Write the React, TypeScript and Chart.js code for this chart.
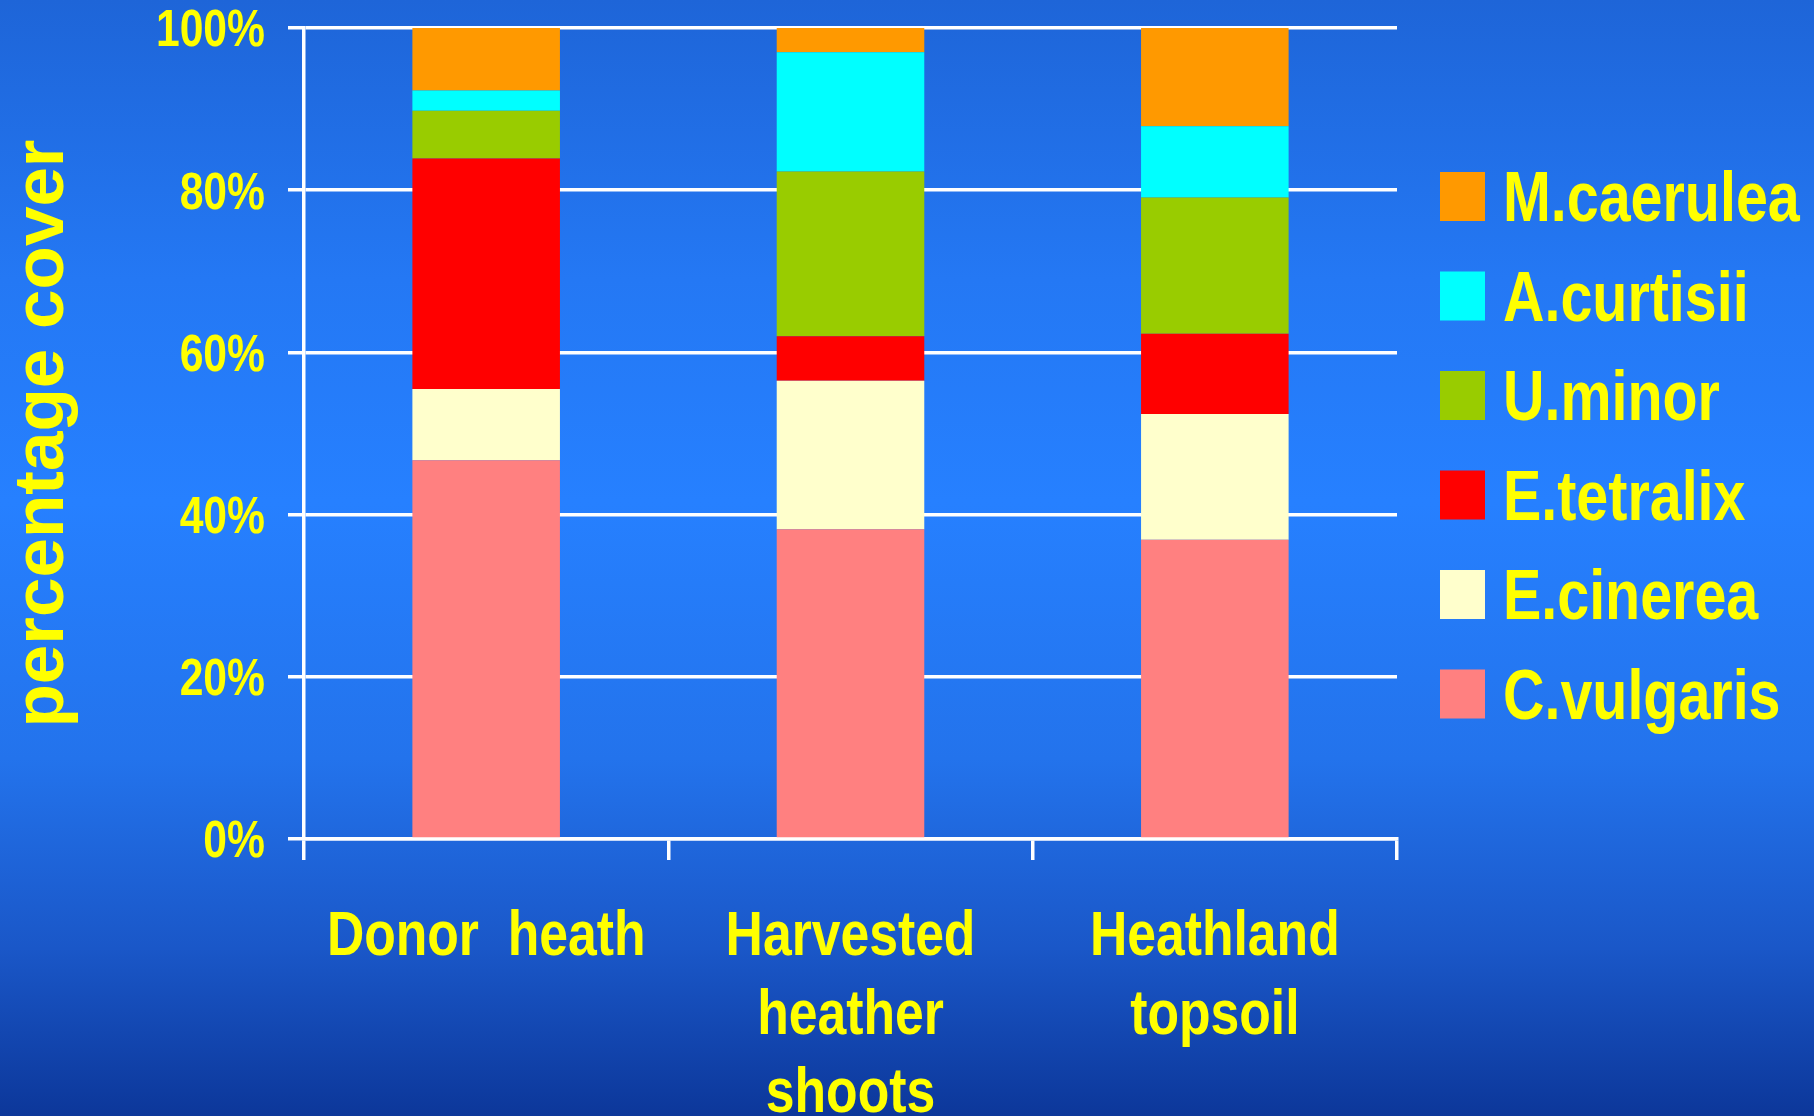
import React, { useEffect, useRef } from 'react';
import { Chart, registerables } from 'chart.js';

Chart.register(...registerables);

// ---- data ----
const categories: string[][] = [['Donor  heath'], ['Harvested', 'heather', 'shoots'], ['Heathland', 'topsoil']];
const species = ['C.vulgaris', 'E.cinerea', 'E.tetralix', 'U.minor', 'A.curtisii', 'M.caerulea'];
const cVulgaris = [46.7, 38.2, 36.9];
const eCinerea = [8.8, 18.3, 15.5];
const eTetralix = [28.4, 5.5, 9.9];
const uMinor = [5.9, 20.3, 16.8];
const aCurtisii = [2.5, 14.7, 8.8];
const mCaerulea = [7.7, 3.0, 12.1];
const seriesValues = [cVulgaris, eCinerea, eTetralix, uMinor, aCurtisii, mCaerulea];
const seriesColors = ['#FF8080', '#FFFFCC', '#FF0000', '#99CC00', '#00FFFF', '#FF9900'];
const yTickValues = [0, 20, 40, 60, 80, 100];
const yTitle = 'percentage cover';

const FONT = "'Liberation Sans', Arial, sans-serif";
const YELLOW = '#FFFF00';
const SQUEEZE = 0.82; // narrow (Arial Narrow-like) rendering of horizontal text

// Renders horizontal Chart.js text condensed, like the narrow face of the original.
const condense = {
  id: 'condense',
  beforeDraw(chart: any) {
    const ctx = chart.ctx;
    if (ctx.__origFillText) return;
    const orig = ctx.fillText;
    ctx.__origFillText = orig;
    ctx.fillText = function (text: string, x: number, y: number) {
      const m = this.getTransform();
      if (Math.abs(m.b) > 1e-6 || Math.abs(m.c) > 1e-6) {
        return orig.call(this, text, x, y);
      }
      this.save();
      this.translate(x, y);
      this.scale(SQUEEZE, 1);
      orig.call(this, text, 0, 0);
      this.restore();
    };
  },
  afterDraw(chart: any) {
    const ctx = chart.ctx;
    if (ctx.__origFillText) {
      ctx.fillText = ctx.__origFillText;
      delete ctx.__origFillText;
    }
  },
};

const sideLegend = {
  id: 'sideLegend',
  afterDraw(chart: any) {
    const ctx = chart.ctx;
    const ds = chart.data.datasets;
    ctx.save();
    ctx.font = `bold 70px ${FONT}`;
    ctx.textBaseline = 'alphabetic';
    ctx.textAlign = 'left';
    for (let i = 0; i < ds.length; i++) {
      const d = ds[ds.length - 1 - i];
      const bottom = 221 + i * 99.5;
      ctx.fillStyle = d.backgroundColor;
      ctx.fillRect(1440, bottom - 49, 45, 49);
      ctx.fillStyle = YELLOW;
      ctx.save();
      ctx.translate(1503, bottom);
      ctx.scale(SQUEEZE, 1);
      ctx.fillText(d.label, 0, 0);
      ctx.restore();
    }
    ctx.restore();
  },
};

export default function App() {
  const ref = useRef<HTMLCanvasElement>(null);
  useEffect(() => {
    const canvas = ref.current!;
    const chart = new Chart(canvas, {
      type: 'bar',
      data: {
        labels: categories as any,
        datasets: species.map((s, i) => ({
          label: s,
          data: seriesValues[i],
          backgroundColor: seriesColors[i],
          borderWidth: 0,
          barPercentage: 0.405,
          categoryPercentage: 1,
        })),
      },
      options: {
        animation: false,
        responsive: false,
        devicePixelRatio: 1,
        layout: { padding: { top: 28, right: 417, left: 0, bottom: 0 } },
        plugins: {
          legend: { display: false },
          tooltip: { enabled: false },
        },
        scales: {
          x: {
            stacked: true,
            afterFit: (s: any) => { s.height = 277; s.paddingLeft = 0; s.paddingRight = 0; },
            grid: { display: true, drawOnChartArea: false, drawTicks: true, tickLength: 21, color: '#FFFFFF', lineWidth: 3.5, offset: true },
            border: { display: true, color: '#FFFFFF', width: 3.5 },
            ticks: {
              color: YELLOW,
              font: { family: FONT, size: 63, weight: 'bold', lineHeight: 1.25 },
              padding: 38,
              maxRotation: 0,
              autoSkip: false,
            },
          },
          y: {
            stacked: true,
            min: 0,
            max: 100,
            afterFit: (s: any) => { s.width = 304; s.paddingTop = 0; s.paddingBottom = 0; },
            afterBuildTicks: (s: any) => { s.ticks = yTickValues.map((v) => ({ value: v })); },
            grid: { color: '#FFFFFF', lineWidth: 3.5, tickLength: 16, drawTicks: true },
            border: { display: true, color: '#FFFFFF', width: 3.5 },
            ticks: {
              color: YELLOW,
              font: { family: FONT, size: 52, weight: 'bold' },
              padding: 23,
              labelOffset: 4,
              callback: (v: any) => `${v}%`,
            },
            title: {
              display: true,
              text: yTitle,
              color: YELLOW,
              font: { family: FONT, size: 71, weight: 'bold', lineHeight: 1 },
              padding: { top: 8, bottom: 0 },
            },
          },
        },
      } as any,
      plugins: [condense, sideLegend],
    });
    return () => chart.destroy();
  }, []);

  return (
    <div
      style={{
        position: 'fixed',
        left: 0,
        top: 0,
        width: 1814,
        height: 1116,
        background: 'linear-gradient(to bottom, #1e65d8 0%, #2478f4 25%, #2680ff 45%, #2373ec 68%, #1a57c8 85%, #0c379a 100%)',
      }}
    >
      <canvas ref={ref} width={1814} height={1116} style={{ display: 'block', width: 1814, height: 1116 }} />
    </div>
  );
}
